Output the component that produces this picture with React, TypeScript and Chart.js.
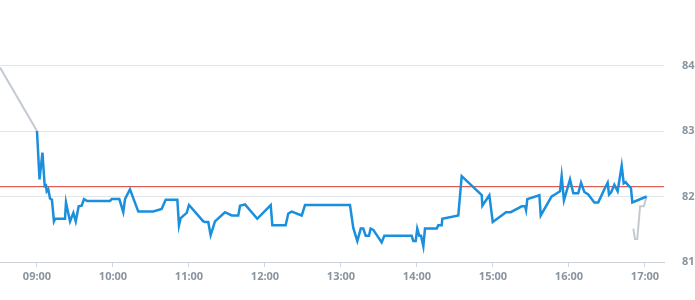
import React, { useEffect, useRef } from "react";
import { Chart, registerables } from "chart.js";

Chart.register(...registerables);

// minutes after 09:00 and prices
const sessionMinutes = [
  0, 2.0, 4.3, 6.1, 7.1, 7.7, 8.9, 10.3, 11.8, 13.4, 14.4, 22.1, 22.9, 26.1, 28.7, 30.6, 32.9, 35.3, 37.1, 39.7,
  57.6, 59.0, 65.0, 68.1, 69.5, 73.4, 80.0, 91.8, 98.4, 101.6, 110.8, 112.1, 113.4, 118.2, 120.0, 131.3, 132.6,
  135.2, 137.1, 140.5, 148.4, 153.7, 158.9, 160.3, 164.2, 173.9, 184.5, 185.8, 196.3, 198.4, 201.1, 209.0, 211.6,
  247.1, 249.7, 252.9, 255.6, 257.6, 259.5, 262.1, 263.4, 265.5, 272.1, 274.2, 295.8, 297.1, 299.0, 300.2, 301.8,
  303.2, 305.0, 306.3, 315.6, 316.8, 319.5, 320.0, 332.6, 335.3, 351.1, 351.6, 357.1, 359.8, 370.3, 374.0, 382.7,
  385.3, 386.1, 387.1, 396.6, 397.7, 406.3, 408.9, 412.9, 414.2, 416.0, 420.8, 423.4, 427.3, 429.5, 432.1, 435.2,
  440.0, 443.1, 448.4, 450.5, 451.6, 453.2, 455.8, 458.4, 461.6, 463.2, 464.8, 466.3, 468.9, 470.0, 481.3,
];
const sessionPrices = [
  83.0, 82.26, 82.67, 82.16, 82.17, 82.08, 82.11, 81.97, 81.95, 81.62, 81.66, 81.66, 81.91, 81.62, 81.75, 81.62,
  81.85, 81.86, 81.96, 81.93, 81.93, 81.96, 81.96, 81.76, 81.96, 82.11, 81.77, 81.77, 81.81, 81.95, 81.95, 81.56,
  81.67, 81.75, 81.87, 81.62, 81.61, 81.61, 81.41, 81.62, 81.76, 81.71, 81.71, 81.86, 81.88, 81.66, 81.87, 81.56,
  81.56, 81.74, 81.77, 81.71, 81.87, 81.87, 81.52, 81.32, 81.51, 81.51, 81.4, 81.4, 81.51, 81.49, 81.3, 81.4,
  81.4, 81.32, 81.32, 81.51, 81.4, 81.4, 81.24, 81.51, 81.51, 81.56, 81.56, 81.66, 81.71, 82.31, 82.02, 81.86,
  82.02, 81.61, 81.76, 81.76, 81.85, 81.85, 81.79, 81.96, 82.02, 81.71, 82.0, 82.03, 82.08, 82.31, 81.94, 82.26,
  82.05, 82.05, 82.21, 82.07, 82.03, 81.91, 81.91, 82.13, 82.21, 82.03, 82.06, 82.18, 82.08, 82.47, 82.2, 82.22,
  82.18, 82.13, 81.91, 82.0,
];
const preMinutes = [-29.2, 0];
const prePrices = [83.97, 83.0];
const postMinutes = [470.8, 472.1, 473.9, 476.1, 479.1, 481.3];
const postPrices = [81.51, 81.35, 81.35, 81.85, 81.85, 82.0];
const prevClose = 82.15;

const openMinute = 540; // 09:00
const axisMinMinute = 510.8;
const axisMaxMinute = 1035;
const xTickMinutes = [540, 600, 660, 720, 780, 840, 900, 960, 1020];
const yTickValues = [81, 82, 83, 84];
const yMin = 81;
const yMax = 85;

const pts = (m: number[], p: number[]) => m.map((t, i) => ({ x: openMinute + t, y: p[i] }));
const fmt = (v: number) => {
  const h = Math.floor(v / 60);
  const mm = Math.round(v - h * 60);
  return String(h).padStart(2, "0") + ":" + String(mm).padStart(2, "0");
};

export default function App() {
  const ref = useRef<HTMLCanvasElement>(null);
  useEffect(() => {
    if (!ref.current) return;
    const font = { family: "'Open Sans', sans-serif", size: 11, weight: "bold" as any };
    const chart = new Chart(ref.current, {
      type: "line",
      data: {
        datasets: [
          {
            data: [
              { x: axisMinMinute, y: prevClose },
              { x: axisMaxMinute, y: prevClose },
            ],
            borderColor: "#d93a32",
            borderWidth: 1,
            pointRadius: 0,
            order: 3,
          },
          {
            data: pts(preMinutes, prePrices),
            borderColor: "#c3cad1",
            borderWidth: 2,
            pointRadius: 0,
            order: 2,
          },
          {
            data: pts(postMinutes, postPrices),
            borderColor: "#c3cad1",
            borderWidth: 2,
            pointRadius: 0,
            order: 2,
          },
          {
            data: pts(sessionMinutes, sessionPrices),
            borderColor: "#1a8fdd",
            borderWidth: 2.5,
            pointRadius: 0,
            tension: 0,
            order: 1,
          },
        ],
      },
      options: {
        animation: false,
        responsive: false,
        layout: { padding: 0 },
        plugins: { legend: { display: false }, tooltip: { enabled: false } },
        scales: {
          x: {
            type: "linear",
            min: axisMinMinute,
            max: axisMaxMinute,
            afterBuildTicks: (s: any) => {
              s.ticks = xTickMinutes.map((v) => ({ value: v }));
            },
            afterFit: (s: any) => {
              s.height = 38;
              s.paddingLeft = 0;
              s.paddingRight = 0;
            },
            grid: { drawOnChartArea: false, drawTicks: true, tickLength: 5, color: "#d3d7dd" },
            border: { color: "#ccd1d8" },
            ticks: { color: "#8a949e", font, padding: 3, maxRotation: 0, callback: (v: any) => fmt(Number(v)) },
          },
          y: {
            position: "right",
            min: yMin,
            max: yMax,
            afterBuildTicks: (s: any) => {
              s.ticks = yTickValues.map((v) => ({ value: v }));
            },
            afterFit: (s: any) => {
              s.width = 31;
              s.paddingTop = 0;
              s.paddingBottom = 0;
            },
            grid: { color: "#e3e5e8", drawTicks: false },
            border: { display: false },
            ticks: { color: "#8a949e", font, padding: 18, callback: (v: any) => String(v) },
          },
        },
      },
    });
    return () => chart.destroy();
  }, []);
  return (
    <div style={{ position: "fixed", left: 0, top: 0, width: 695, height: 300, background: "#fff" }}>
      <canvas ref={ref} width={695} height={300} style={{ display: "block" }} />
    </div>
  );
}
